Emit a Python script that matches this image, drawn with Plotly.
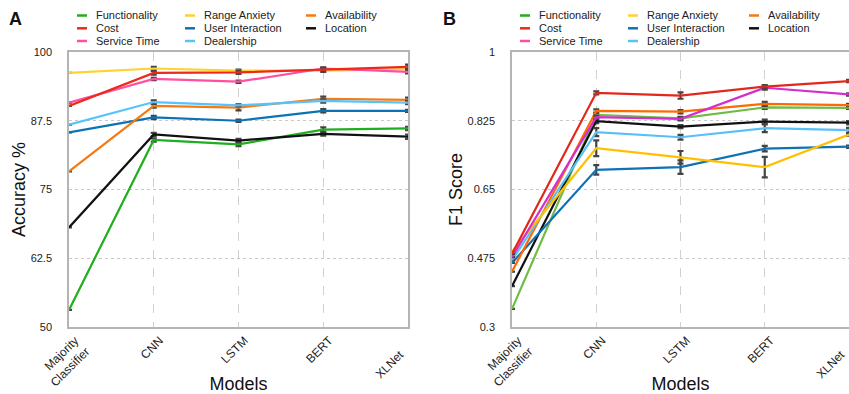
import plotly.graph_objects as go

W, H = 849, 394

models = ["Majority<br>Classifier", "CNN", "LSTM", "BERT", "XLNet"]
NB = "\u00a0" * 6
tick_labels = ["Majority<br>Classifier", "CNN", "LSTM", "BERT", "XLNet" + NB]

# legend is laid out column by column
series = ["Functionality", "Cost", "Service Time",
          "Range Anxiety", "User Interaction", "Dealership",
          "Availability", "Location"]

colors_a = {"Functionality": "#1fae1f", "Cost": "#ec2a1c", "Service Time": "#ff4f9e",
            "Range Anxiety": "#ffd230", "User Interaction": "#0b72b6", "Dealership": "#58c3fb",
            "Availability": "#f57a12", "Location": "#111111"}
colors_b = {"Functionality": "#6fbb44", "Cost": "#e2271b", "Service Time": "#d42ecf",
            "Range Anxiety": "#ffc000", "User Interaction": "#0f72b5", "Dealership": "#58c0f5",
            "Availability": "#ff6a00", "Location": "#111111"}

# Panel A: accuracy (%)
acc_functionality = [53.1, 84.0, 83.2, 85.9, 86.1]
acc_cost = [90.2, 96.2, 96.3, 96.8, 97.3]
acc_service_time = [90.8, 95.1, 94.6, 97.0, 96.4]
acc_range_anxiety = [96.2, 97.0, 96.6, 96.6, 96.9]
acc_user_interaction = [85.4, 88.1, 87.5, 89.3, 89.3]
acc_dealership = [86.8, 90.9, 90.3, 91.1, 90.8]
acc_availability = [78.3, 90.2, 89.9, 91.5, 91.3]
acc_location = [68.1, 85.0, 83.9, 85.1, 84.6]

acc_err_functionality = [0, 0.3, 0.3, 0.4, 0.3]
acc_err_cost = [0, 0.3, 0.3, 0.3, 0.4]
acc_err_service_time = [0, 0.2, 0.2, 0.2, 0.3]
acc_err_range_anxiety = [0, 0.3, 0.2, 0.2, 0.2]
acc_err_user_interaction = [0, 0.3, 0.2, 0.3, 0.2]
acc_err_dealership = [0, 0.3, 0.2, 0.3, 0.3]
acc_err_availability = [0, 0.3, 0.5, 0.4, 0.4]
acc_err_location = [0, 0.3, 0.3, 0.3, 0.4]

# Panel B: F1 score
f1_functionality = [0.346, 0.840, 0.831, 0.859, 0.858]
f1_cost = [0.486, 0.896, 0.889, 0.912, 0.926]
f1_service_time = [0.478, 0.834, 0.830, 0.909, 0.892]
f1_range_anxiety = [0.492, 0.755, 0.732, 0.707, 0.790]
f1_user_interaction = [0.463, 0.700, 0.707, 0.754, 0.759]
f1_dealership = [0.470, 0.796, 0.783, 0.806, 0.801]
f1_availability = [0.441, 0.850, 0.848, 0.868, 0.865]
f1_location = [0.404, 0.824, 0.810, 0.823, 0.820]

f1_err_functionality = [0, 0.004, 0.004, 0.004, 0.003]
f1_err_cost = [0, 0.004, 0.008, 0.004, 0.003]
f1_err_service_time = [0, 0.004, 0.004, 0.005, 0.003]
f1_err_range_anxiety = [0, 0.020, 0.016, 0.026, 0.003]
f1_err_user_interaction = [0, 0.012, 0.017, 0.007, 0.003]
f1_err_dealership = [0, 0.010, 0.006, 0.010, 0.006]
f1_err_availability = [0, 0.004, 0.004, 0.005, 0.003]
f1_err_location = [0, 0.005, 0.004, 0.005, 0.004]

acc = {"Functionality": acc_functionality, "Cost": acc_cost, "Service Time": acc_service_time,
       "Range Anxiety": acc_range_anxiety, "User Interaction": acc_user_interaction,
       "Dealership": acc_dealership, "Availability": acc_availability, "Location": acc_location}
acc_err = {"Functionality": acc_err_functionality, "Cost": acc_err_cost,
           "Service Time": acc_err_service_time, "Range Anxiety": acc_err_range_anxiety,
           "User Interaction": acc_err_user_interaction, "Dealership": acc_err_dealership,
           "Availability": acc_err_availability, "Location": acc_err_location}
f1 = {"Functionality": f1_functionality, "Cost": f1_cost, "Service Time": f1_service_time,
      "Range Anxiety": f1_range_anxiety, "User Interaction": f1_user_interaction,
      "Dealership": f1_dealership, "Availability": f1_availability, "Location": f1_location}
f1_err = {"Functionality": f1_err_functionality, "Cost": f1_err_cost,
          "Service Time": f1_err_service_time, "Range Anxiety": f1_err_range_anxiety,
          "User Interaction": f1_err_user_interaction, "Dealership": f1_err_dealership,
          "Availability": f1_err_availability, "Location": f1_err_location}

acc_ticks = [50, 62.5, 75, 87.5, 100]
acc_ticktext = ["50", "62.5", "75", "87.5", "100"]
f1_ticks = [0.3, 0.475, 0.65, 0.825, 1]
f1_ticktext = ["0.3", "0.475", "0.65", "0.825", "1"]

draw_order = ["Functionality", "Location", "User Interaction", "Availability", "Dealership",
              "Range Anxiety", "Service Time", "Cost"]

FONT = "Arial, Liberation Sans, Helvetica, sans-serif"
fig = go.Figure()

for name in draw_order:
    fig.add_trace(go.Scatter(
        x=models, y=acc[name], mode="lines", name=name, showlegend=False,
        line=dict(color=colors_a[name], width=2.2), cliponaxis=False,
        error_y=dict(type="data", array=acc_err[name], color="#444444", thickness=2.2, width=3),
        xaxis="x", yaxis="y"))
    fig.add_trace(go.Scatter(
        x=models, y=f1[name], mode="lines", name=name, showlegend=False,
        line=dict(color=colors_b[name], width=2.2), cliponaxis=False,
        error_y=dict(type="data", array=f1_err[name], color="#444444", thickness=2.2, width=3),
        xaxis="x2", yaxis="y2"))

dom_a = [69 / W, 408 / W]
dom_b = [512 / W, 1.0]
dom_y = [1 - 327 / H, 1 - 52 / H]

axis_common = dict(showline=True, linecolor="#b4b4b4", linewidth=1.5, mirror=True,
                   ticks="", zeroline=False, automargin=False,
                   tickfont=dict(size=11, color="#222222", family=FONT))
xcommon = dict(axis_common, type="category", range=[0, len(models) - 1], tickangle=-45,
               tickmode="array", tickvals=models, ticktext=tick_labels,
               ticklabelshift=6,
               showgrid=True, gridcolor="#d6d0c8", griddash="dash", gridwidth=1,
               tickfont=dict(size=12, color="#222222", family=FONT),
               title=dict(text="Models", font=dict(size=18, color="#111111", family=FONT), standoff=8))

fig.update_layout(
    width=W, height=H, margin=dict(l=0, r=0, t=0, b=0, autoexpand=False),
    paper_bgcolor="white", plot_bgcolor="white", showlegend=False,
    font=dict(family=FONT, color="#222222"),
    xaxis=dict(xcommon, domain=dom_a, anchor="y"),
    xaxis2=dict(xcommon, domain=dom_b, anchor="y2"),
    yaxis=dict(axis_common, domain=dom_y, anchor="x", range=[50, 100],
               tickvals=acc_ticks, ticktext=acc_ticktext, ticklabelstandoff=13,
               showgrid=True, gridcolor="#c8c8c8", griddash="dot", gridwidth=1,
               title=dict(text="Accuracy %", font=dict(size=18, color="#111111", family=FONT), standoff=0)),
    yaxis2=dict(axis_common, domain=dom_y, anchor="x2", range=[0.3, 1.0],
                tickvals=f1_ticks, ticktext=f1_ticktext, ticklabelstandoff=13,
                showgrid=True, gridcolor="#c8c8c8", griddash="dot", gridwidth=1,
                title=dict(text="F1 Score", font=dict(size=18, color="#111111", family=FONT), standoff=0)),
)

# Panel letters
for letter, px in [("A", 7), ("B", 441)]:
    fig.add_annotation(text="<b>%s</b>" % letter, x=px / W, y=1 - 18.5 / H, xref="paper", yref="paper",
                       xanchor="left", yanchor="middle", showarrow=False,
                       font=dict(size=18, color="#111111", family=FONT))

# Custom three-column legends (one per panel)
legend_cols = [["Functionality", "Cost", "Service Time"],
               ["Range Anxiety", "User Interaction", "Dealership"],
               ["Availability", "Location"]]
col_offsets = [8, 116, 237]
row_y = [15.5, 28.3, 41]
for plot_left in [69, 512]:
    for ci, col in enumerate(legend_cols):
        for ri, name in enumerate(col):
            x0 = plot_left + col_offsets[ci]
            yy = 1 - row_y[ri] / H
            fig.add_shape(type="line", xref="paper", yref="paper",
                          x0=x0 / W, x1=(x0 + 10) / W, y0=yy, y1=yy,
                          line=dict(color=colors_a[name], width=2.5))
            fig.add_annotation(text=name, x=(x0 + 17) / W, y=yy, xref="paper", yref="paper",
                               xanchor="left", yanchor="middle", showarrow=False,
                               font=dict(size=11, color="#222222", family=FONT))

fig.write_html("out.html", config={"displayModeBar": False},
               post_script="document.body.style.margin='0px';")
